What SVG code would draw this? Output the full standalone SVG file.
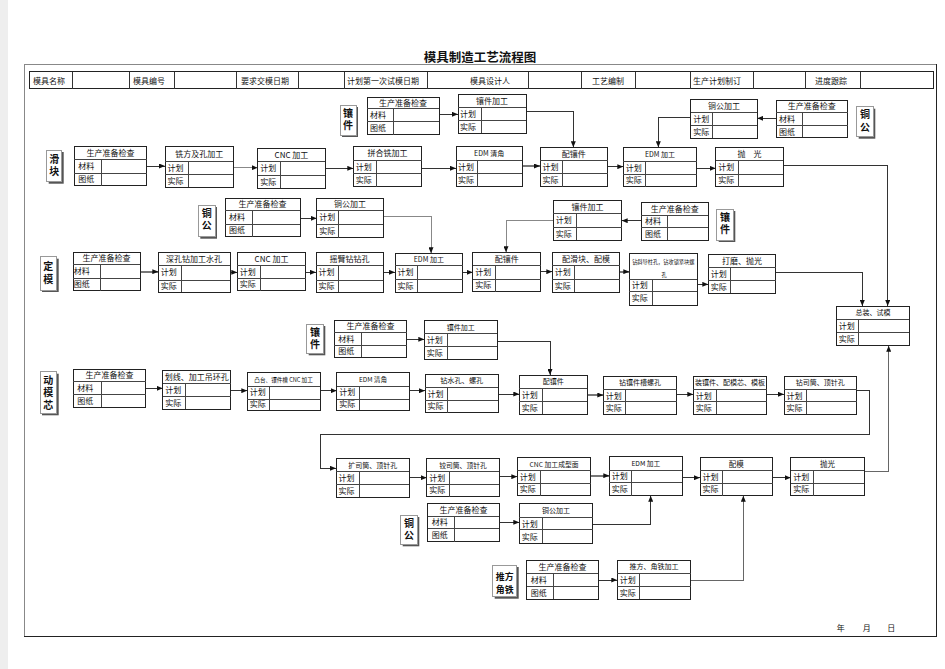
<svg xmlns="http://www.w3.org/2000/svg" width="945" height="669" viewBox="0 0 945 669">
<style>
text{font-family:"Noto Sans CJK SC","Noto Sans",sans-serif;fill:#111}
.box rect{fill:#fff;stroke:#222;stroke-width:1;shape-rendering:crispEdges}
.box line{stroke:#444;stroke-width:1;shape-rendering:crispEdges}
.t{font-size:8px;text-anchor:middle}
.r{font-size:8px}
.lab .sh{fill:#555;stroke:none}
.lab .fr{fill:#fff;stroke:#999;stroke-width:1;shape-rendering:crispEdges}
.lab text{font-size:10px;font-weight:bold}
.lab .v{writing-mode:vertical-rl;letter-spacing:2.6px}
.hd{font-size:8px}
#connectors path{fill:none;stroke:#333;stroke-width:1;shape-rendering:crispEdges}
</style>
<defs>
<marker id="ah" markerUnits="userSpaceOnUse" markerWidth="6" markerHeight="5" refX="6" refY="2.5" orient="auto">
<path d="M0,0 L6,2.5 L0,5 z" fill="#111"/>
</marker>
</defs>
<rect x="0" y="0" width="945" height="669" fill="#fff"/>
<rect x="0" y="0" width="8" height="669" fill="#eeeeee"/>
<g id="page">
<path d="M24,636 V64 H936" fill="none" stroke="#888" stroke-width="1" shape-rendering="crispEdges"/>
<path d="M936,64 V636 H24" fill="none" stroke="#222" stroke-width="1" shape-rendering="crispEdges"/>
<text x="480" y="62" style="font-size:12.5px;font-weight:bold" text-anchor="middle">模具制造工艺流程图</text>
</g>
<g id="header">
<rect x="29.5" y="71.5" width="904" height="17" fill="none" stroke="#222" stroke-width="1" shape-rendering="crispEdges"/>
<g stroke="#333" stroke-width="1" shape-rendering="crispEdges">
<line x1="72.5" y1="71.5" x2="72.5" y2="88.5"/><line x1="129.5" y1="71.5" x2="129.5" y2="88.5"/>
<line x1="174.5" y1="71.5" x2="174.5" y2="88.5"/><line x1="236.5" y1="71.5" x2="236.5" y2="88.5"/>
<line x1="298.5" y1="71.5" x2="298.5" y2="88.5"/><line x1="344.5" y1="71.5" x2="344.5" y2="88.5"/>
<line x1="427.5" y1="71.5" x2="427.5" y2="88.5"/><line x1="528.5" y1="71.5" x2="528.5" y2="88.5"/>
<line x1="581.5" y1="71.5" x2="581.5" y2="88.5"/><line x1="635.5" y1="71.5" x2="635.5" y2="88.5"/>
<line x1="690.5" y1="71.5" x2="690.5" y2="88.5"/><line x1="753.5" y1="71.5" x2="753.5" y2="88.5"/>
<line x1="805.5" y1="71.5" x2="805.5" y2="88.5"/><line x1="860.5" y1="71.5" x2="860.5" y2="88.5"/>
</g>
<text class="hd" x="33" y="83.5">模具名称</text>
<text class="hd" x="133" y="83.5">模具编号</text>
<text class="hd" x="241" y="83.5">要求交模日期</text>
<text class="hd" x="347" y="83.5">计划第一次试模日期</text>
<text class="hd" x="470" y="83.5">模具设计人</text>
<text class="hd" x="592" y="83.5">工艺编制</text>
<text class="hd" x="693" y="83.5">生产计划制订</text>
<text class="hd" x="815" y="83.5">进度跟踪</text>
</g>

<g id="labels">
<g id="L1" class="lab"><rect class="sh" x="342" y="107" width="16" height="30"/><rect class="fr" x="340" y="105" width="16" height="30"/><text class="v" x="348" y="108">镶件</text></g>
<g id="L2" class="lab"><rect class="sh" x="48.7" y="152" width="15" height="31.7"/><rect class="fr" x="46.7" y="150" width="15" height="31.7"/><text class="v" x="54.2" y="154">滑块</text></g>
<g id="L3" class="lab"><rect class="sh" x="858.7" y="108.7" width="16.6" height="30"/><rect class="fr" x="856.7" y="106.7" width="16.6" height="30"/><text class="v" x="865" y="109.5">铜公</text></g>
<g id="L4" class="lab"><rect class="sh" x="200.3" y="207" width="16.7" height="31.7"/><rect class="fr" x="198.3" y="205" width="16.7" height="31.7"/><text class="v" x="206.7" y="208">铜公</text></g>
<g id="L5" class="lab"><rect class="sh" x="718.7" y="211" width="16.6" height="31"/><rect class="fr" x="716.7" y="209" width="16.6" height="31"/><text class="v" x="725" y="212">镶件</text></g>
<g id="L6" class="lab"><rect class="sh" x="42" y="258.7" width="16.7" height="33.3"/><rect class="fr" x="40" y="256.7" width="16.7" height="33.3"/><text class="v" x="48.3" y="261" style="letter-spacing:3.5px">定模</text></g>
<g id="L7" class="lab"><rect class="sh" x="308.7" y="326" width="16.6" height="29.3"/><rect class="fr" x="306.7" y="324" width="16.6" height="29.3"/><text class="v" x="315" y="327">镶件</text></g>
<g id="L8" class="lab"><rect class="sh" x="42" y="373.7" width="16.7" height="41.6"/><rect class="fr" x="40" y="371.7" width="16.7" height="41.6"/><text class="v" x="48.3" y="375">动模芯</text></g>
<g id="L9" class="lab"><rect class="sh" x="402.7" y="517" width="16.6" height="29.3"/><rect class="fr" x="400.7" y="515" width="16.6" height="29.3"/><text class="v" x="409" y="518">铜公</text></g>
<g id="L10" class="lab"><rect class="sh" x="494.7" y="567" width="24" height="31.7"/><rect class="fr" x="492.7" y="565" width="24" height="31.7"/><text x="504.7" y="579.5" text-anchor="middle" style="font-size:8.9px">推方</text><text x="504.7" y="592.6" text-anchor="middle" style="font-size:8.9px">角铁</text></g>
</g>

<g id="connectors">
<path marker-end="url(#ah)" d="M439,114.3 H458"/>
<path marker-end="url(#ah)" d="M525.7,111 H573.3 V147.3"/>
<path marker-end="url(#ah)" d="M146.7,166 H165"/>
<path marker-end="url(#ah)" d="M233.3,167.7 H257.7" style="stroke:#888"/>
<path marker-end="url(#ah)" d="M325.3,168.3 H353.3"/>
<path marker-end="url(#ah)" d="M421.7,168.3 H456"/>
<path marker-end="url(#ah)" d="M522.3,166 H540" style="stroke:#777;stroke-width:2"/>
<path marker-end="url(#ah)" d="M607.7,166.7 H623.3"/>
<path marker-end="url(#ah)" d="M690.7,117.3 H658.3 V147.3"/>
<path marker-end="url(#ah)" d="M776,118.3 H757.3"/>
<path marker-end="url(#ah)" d="M696.7,168.3 H715.7"/>
<path marker-end="url(#ah)" d="M783.3,165 H887.7 V306"/>
<path marker-end="url(#ah)" d="M300,218.3 H316.7"/>
<path marker-end="url(#ah)" d="M383.3,216.7 H431 V253.3" style="stroke:#888"/>
<path marker-end="url(#ah)" d="M140,271.7 H158.3" style="stroke:#777;stroke-width:2"/>
<path marker-end="url(#ah)" d="M230,272.3 H237.3"/>
<path marker-end="url(#ah)" d="M305.7,272.3 H316"/>
<path marker-end="url(#ah)" d="M383.3,272.3 H395"/>
<path marker-end="url(#ah)" d="M462.7,272.3 H472.7"/>
<path marker-end="url(#ah)" d="M641,220.7 H621.7"/>
<path marker-end="url(#ah)" d="M553.3,220 H506 V252.3" style="stroke:#888"/>
<path marker-end="url(#ah)" d="M540.7,271.7 H552.3"/>
<path marker-end="url(#ah)" d="M620,271.7 H629.3" style="stroke:#777;stroke-width:2"/>
<path marker-end="url(#ah)" d="M697.3,284.3 H708.3"/>
<path marker-end="url(#ah)" d="M775.7,272.3 H862.3 V306"/>
<path marker-end="url(#ah)" d="M406.7,339.3 H424.3"/>
<path marker-end="url(#ah)" d="M497.3,341 H550 V375"/>
<path marker-end="url(#ah)" d="M145.7,388.3 H162.7"/>
<path marker-end="url(#ah)" d="M230.7,390.7 H247.3"/>
<path marker-end="url(#ah)" d="M320,390.7 H336.7"/>
<path marker-end="url(#ah)" d="M409.3,390.7 H425"/>
<path marker-end="url(#ah)" d="M498.3,394 H519.3"/>
<path marker-end="url(#ah)" d="M587.3,395 H603.3" style="stroke:#777;stroke-width:2"/>
<path marker-end="url(#ah)" d="M676.7,394.3 H693.3"/>
<path marker-end="url(#ah)" d="M766.7,394.3 H784"/>
<path marker-end="url(#ah)" d="M856.7,390 H869 V434.3 H320.7 V468.3 H336"/>
<path marker-end="url(#ah)" d="M409.3,477.7 H426.7"/>
<path marker-end="url(#ah)" d="M499.3,476.7 H517.3"/>
<path marker-end="url(#ah)" d="M590.7,475.7 H609.3" style="stroke:#777;stroke-width:2"/>
<path marker-end="url(#ah)" d="M682.3,477.7 H700"/>
<path marker-end="url(#ah)" d="M772.7,477.7 H790.7"/>
<path marker-end="url(#ah)" d="M864,471.7 H888.7 V345.7" style="stroke:#666"/>
<path marker-end="url(#ah)" d="M499.3,522.3 H519.3"/>
<path marker-end="url(#ah)" d="M592.7,524.3 H650.7 V495.7"/>
<path marker-end="url(#ah)" d="M598.3,580 H617.3"/>
<path marker-end="url(#ah)" d="M690.7,580 H743.3 V495.7" style="stroke:#666"/>
</g>

<g id="nodes">
<g id="n1" class="box" transform="translate(367,97)"><rect width="72" height="37.5"/><line x1="0" y1="11.5" x2="72" y2="11.5"/><line x1="0" y1="24.8" x2="72" y2="24.8"/><line x1="26.5" y1="11.5" x2="26.5" y2="37.5"/><text class="t" x="36" y="8.8">生产准备检查</text><text class="r" x="3" y="21.1">材料</text><text class="r" x="3" y="34.1">图纸</text></g>
<g id="n2" class="box" transform="translate(458,94.3)"><rect width="68" height="39"/><line x1="0" y1="13" x2="68" y2="13"/><line x1="0" y1="26.4" x2="68" y2="26.4"/><line x1="23" y1="13" x2="23" y2="39"/><text class="t" x="34" y="9.5">镶件加工</text><text class="r" x="2" y="22.7">计划</text><text class="r" x="2" y="35.7">实际</text></g>
<g id="n3" class="box" transform="translate(74.3,146.7)"><rect width="72.4" height="39"/><line x1="0" y1="12.6" x2="72.4" y2="12.6"/><line x1="0" y1="26.6" x2="72.4" y2="26.6"/><line x1="26.7" y1="12.6" x2="26.7" y2="39"/><text class="t" x="36.2" y="9.3">生产准备检查</text><text class="r" x="4" y="22.6">材料</text><text class="r" x="4" y="35.8">图纸</text></g>
<g id="n4" class="box" transform="translate(165,146.7)"><rect width="68.3" height="40.6"/><line x1="0" y1="14.3" x2="68.3" y2="14.3"/><line x1="0" y1="27.6" x2="68.3" y2="27.6"/><line x1="23.3" y1="14.3" x2="23.3" y2="40.6"/><text class="t" x="34.2" y="10.2">铣方及孔加工</text><text class="r" x="2.5" y="24">计划</text><text class="r" x="2.5" y="37.1">实际</text></g>
<g id="n5" class="box" transform="translate(257.7,148.3)"><rect width="67.6" height="40"/><line x1="0" y1="12.7" x2="67.6" y2="12.7"/><line x1="0" y1="26.7" x2="67.6" y2="26.7"/><line x1="23" y1="12.7" x2="23" y2="40"/><text class="t" x="33.8" y="9.4">CNC 加工</text><text class="r" x="2.5" y="22.7">计划</text><text class="r" x="2.5" y="36.4">实际</text></g>
<g id="n6" class="box" transform="translate(353.3,146.7)"><rect width="68.4" height="40"/><line x1="0" y1="13.3" x2="68.4" y2="13.3"/><line x1="0" y1="26.6" x2="68.4" y2="26.6"/><line x1="23.4" y1="13.3" x2="23.4" y2="40"/><text class="t" x="34.2" y="9.7">拼合铣加工</text><text class="r" x="2.5" y="23">计划</text><text class="r" x="2.5" y="36.3">实际</text></g>
<g id="n7" class="box" transform="translate(456,146.7)"><rect width="66.3" height="40"/><line x1="0" y1="13.3" x2="66.3" y2="13.3"/><line x1="0" y1="26.6" x2="66.3" y2="26.6"/><line x1="21.3" y1="13.3" x2="21.3" y2="40"/><text class="t" x="33.2" y="9.3" style="font-size:7px">EDM 清角</text><text class="r" x="2" y="23">计划</text><text class="r" x="2" y="36.3">实际</text></g>
<g id="n8" class="box" transform="translate(540,147.3)"><rect width="67.7" height="39.4"/><line x1="0" y1="13.4" x2="67.7" y2="13.4"/><line x1="0" y1="26" x2="67.7" y2="26"/><line x1="22.3" y1="13.4" x2="22.3" y2="39.4"/><text class="t" x="33.8" y="9.7">配镶件</text><text class="r" x="2.5" y="22.7">计划</text><text class="r" x="2.5" y="35.7">实际</text></g>
<g id="n9" class="box" transform="translate(623.3,147.3)"><rect width="73.4" height="39.4"/><line x1="0" y1="13.7" x2="73.4" y2="13.7"/><line x1="0" y1="27" x2="73.4" y2="27"/><line x1="22.4" y1="13.7" x2="22.4" y2="39.4"/><text class="t" x="36.7" y="9.5" style="font-size:7px">EDM 加工</text><text class="r" x="2.5" y="23.4">计划</text><text class="r" x="2.5" y="36.2">实际</text></g>
<g id="n10" class="box" transform="translate(715.7,147.3)"><rect width="67.6" height="39.4"/><line x1="0" y1="12.7" x2="67.6" y2="12.7"/><line x1="0" y1="26.7" x2="67.6" y2="26.7"/><line x1="22.6" y1="12.7" x2="22.6" y2="39.4"/><text class="t" x="33.8" y="9.4">抛　光</text><text class="r" x="2.5" y="22.7">计划</text><text class="r" x="2.5" y="36">实际</text></g>
<g id="n11" class="box" transform="translate(690.7,99.3)"><rect width="66.6" height="39"/><line x1="0" y1="13" x2="66.6" y2="13"/><line x1="0" y1="25.7" x2="66.6" y2="25.7"/><line x1="22" y1="13" x2="22" y2="39"/><text class="t" x="33.3" y="9.5">铜公加工</text><text class="r" x="2.5" y="22.4">计划</text><text class="r" x="2.5" y="35.4">实际</text></g>
<g id="n12" class="box" transform="translate(776,100)"><rect width="71.7" height="37.3"/><line x1="0" y1="12.7" x2="71.7" y2="12.7"/><line x1="0" y1="25.7" x2="71.7" y2="25.7"/><line x1="26.3" y1="12.7" x2="26.3" y2="37.3"/><text class="t" x="35.8" y="9.4">生产准备检查</text><text class="r" x="3" y="22.2">材料</text><text class="r" x="3" y="34.5">图纸</text></g>
<g id="n13" class="box" transform="translate(225,198.3)"><rect width="75" height="38.4"/><line x1="0" y1="11.7" x2="75" y2="11.7"/><line x1="0" y1="26" x2="75" y2="26"/><line x1="27.3" y1="11.7" x2="27.3" y2="38.4"/><text class="t" x="37.5" y="8.9">生产准备检查</text><text class="r" x="4" y="21.9">材料</text><text class="r" x="4" y="35.2">图纸</text></g>
<g id="n14" class="box" transform="translate(316.7,198.3)"><rect width="66.6" height="39.4"/><line x1="0" y1="12.4" x2="66.6" y2="12.4"/><line x1="0" y1="26" x2="66.6" y2="26"/><line x1="21.6" y1="12.4" x2="21.6" y2="39.4"/><text class="t" x="33.3" y="9.2">铜公加工</text><text class="r" x="2.5" y="22.2">计划</text><text class="r" x="2.5" y="35.7">实际</text></g>
<g id="n15" class="box" transform="translate(73.3,252.3)"><rect width="66.7" height="38.4"/><line x1="0" y1="11.7" x2="66.7" y2="11.7"/><line x1="0" y1="26" x2="66.7" y2="26"/><line x1="27.4" y1="11.7" x2="27.4" y2="38.4"/><text class="t" x="33.3" y="8.9">生产准备检查</text><text class="r" x="0.5" y="21.9">材料</text><text class="r" x="0.5" y="35.2">图纸</text></g>
<g id="n16" class="box" transform="translate(158.3,252.3)"><rect width="71.7" height="40"/><line x1="0" y1="12.7" x2="71.7" y2="12.7"/><line x1="0" y1="27.7" x2="71.7" y2="27.7"/><line x1="23.4" y1="12.7" x2="23.4" y2="40"/><text class="t" x="35.8" y="9.4">深孔钻加工水孔</text><text class="r" x="2.5" y="23.2">计划</text><text class="r" x="2.5" y="36.9">实际</text></g>
<g id="n17" class="box" transform="translate(237.3,252.3)"><rect width="68.4" height="38.4"/><line x1="0" y1="12.7" x2="68.4" y2="12.7"/><line x1="0" y1="26" x2="68.4" y2="26"/><line x1="23.4" y1="12.7" x2="23.4" y2="38.4"/><text class="t" x="34.2" y="9.4">CNC 加工</text><text class="r" x="2.5" y="22.4">计划</text><text class="r" x="2.5" y="35.2">实际</text></g>
<g id="n18" class="box" transform="translate(316,252.3)"><rect width="67.3" height="40"/><line x1="0" y1="12.7" x2="67.3" y2="12.7"/><line x1="0" y1="27.7" x2="67.3" y2="27.7"/><line x1="22.3" y1="12.7" x2="22.3" y2="40"/><text class="t" x="33.6" y="9.4">摇臂钻钻孔</text><text class="r" x="2.5" y="23.2">计划</text><text class="r" x="2.5" y="36.9">实际</text></g>
<g id="n19" class="box" transform="translate(395,253.3)"><rect width="67.7" height="39"/><line x1="0" y1="11.7" x2="67.7" y2="11.7"/><line x1="0" y1="25.7" x2="67.7" y2="25.7"/><line x1="22.7" y1="11.7" x2="22.7" y2="39"/><text class="t" x="33.8" y="8.6" style="font-size:7px">EDM 加工</text><text class="r" x="2.5" y="21.7">计划</text><text class="r" x="2.5" y="35.4">实际</text></g>
<g id="n20" class="box" transform="translate(472.7,252.3)"><rect width="68" height="39.4"/><line x1="0" y1="13.4" x2="68" y2="13.4"/><line x1="0" y1="26.7" x2="68" y2="26.7"/><line x1="23" y1="13.4" x2="23" y2="39.4"/><text class="t" x="34" y="9.7">配镶件</text><text class="r" x="2.5" y="23">计划</text><text class="r" x="2.5" y="36">实际</text></g>
<g id="n21" class="box" transform="translate(552.3,252.3)"><rect width="67.7" height="40"/><line x1="0" y1="12.7" x2="67.7" y2="12.7"/><line x1="0" y1="26.7" x2="67.7" y2="26.7"/><line x1="22" y1="12.7" x2="22" y2="40"/><text class="t" x="33.8" y="9.4">配滑块、配模</text><text class="r" x="2.5" y="22.7">计划</text><text class="r" x="2.5" y="36.4">实际</text></g>
<g id="n22" class="box" transform="translate(629.3,253.3)"><rect width="68" height="52"/><line x1="0" y1="25.7" x2="68" y2="25.7"/><line x1="0" y1="38.4" x2="68" y2="38.4"/><line x1="23.4" y1="25.7" x2="23.4" y2="52"/><text class="t" x="34" y="10.4" style="font-size:5.2px">钻斜导柱孔，钻攻锁紧块螺</text><text class="t" x="34.7" y="23.7" style="font-size:5.2px">孔</text><text class="r" x="2.5" y="35">计划</text><text class="r" x="2.5" y="48.2">实际</text></g>
<g id="n23" class="box" transform="translate(708.3,254.3)"><rect width="67.4" height="39"/><line x1="0" y1="13" x2="67.4" y2="13"/><line x1="0" y1="25.7" x2="67.4" y2="25.7"/><line x1="22.4" y1="13" x2="22.4" y2="39"/><text class="t" x="33.7" y="9.5">打磨、抛光</text><text class="r" x="2.5" y="22.4">计划</text><text class="r" x="2.5" y="35.4">实际</text></g>
<g id="n24" class="box" transform="translate(553.3,200.7)"><rect width="68.4" height="39.3"/><line x1="0" y1="12.6" x2="68.4" y2="12.6"/><line x1="0" y1="26.6" x2="68.4" y2="26.6"/><line x1="23.4" y1="12.6" x2="23.4" y2="39.3"/><text class="t" x="34.2" y="9.3">镶件加工</text><text class="r" x="2.5" y="22.6">计划</text><text class="r" x="2.5" y="36">实际</text></g>
<g id="n25" class="box" transform="translate(641,202.3)"><rect width="67.3" height="37.7"/><line x1="0" y1="12.7" x2="67.3" y2="12.7"/><line x1="0" y1="25" x2="67.3" y2="25"/><line x1="26.3" y1="12.7" x2="26.3" y2="37.7"/><text class="t" x="33.7" y="9.4">生产准备检查</text><text class="r" x="4" y="21.9">材料</text><text class="r" x="4" y="34.4">图纸</text></g>
<g id="n26" class="box" transform="translate(836.7,306)"><rect width="72.6" height="39.7"/><line x1="0" y1="13.3" x2="72.6" y2="13.3"/><line x1="0" y1="26.3" x2="72.6" y2="26.3"/><line x1="21.6" y1="13.3" x2="21.6" y2="39.7"/><text class="t" x="36.3" y="9.3" style="font-size:7px">总装、试模</text><text class="r" x="2" y="22.8">计划</text><text class="r" x="2" y="36">实际</text></g>
<g id="n27" class="box" transform="translate(334.3,320)"><rect width="72.4" height="37.3"/><line x1="0" y1="12.3" x2="72.4" y2="12.3"/><line x1="0" y1="25" x2="72.4" y2="25"/><line x1="27.4" y1="12.3" x2="27.4" y2="37.3"/><text class="t" x="36.2" y="9.2">生产准备检查</text><text class="r" x="4" y="21.7">材料</text><text class="r" x="4" y="34.2">图纸</text></g>
<g id="n28" class="box" transform="translate(424.3,320.7)"><rect width="73" height="38.6"/><line x1="0" y1="12.6" x2="73" y2="12.6"/><line x1="0" y1="26" x2="73" y2="26"/><line x1="23.4" y1="12.6" x2="23.4" y2="38.6"/><text class="t" x="36.5" y="9" style="font-size:7px">镶件加工</text><text class="r" x="2.5" y="22.3">计划</text><text class="r" x="2.5" y="35.3">实际</text></g>
<g id="n29" class="box" transform="translate(73.3,369.3)"><rect width="72.4" height="38"/><line x1="0" y1="12.4" x2="72.4" y2="12.4"/><line x1="0" y1="25.7" x2="72.4" y2="25.7"/><line x1="27.7" y1="12.4" x2="27.7" y2="38"/><text class="t" x="36.2" y="9.2">生产准备检查</text><text class="r" x="4" y="22.1">材料</text><text class="r" x="4" y="34.9">图纸</text></g>
<g id="n30" class="box" transform="translate(162.7,370.7)"><rect width="68" height="38.3"/><line x1="0" y1="12.6" x2="68" y2="12.6"/><line x1="0" y1="26" x2="68" y2="26"/><line x1="23" y1="12.6" x2="23" y2="38.3"/><text class="t" x="34" y="9.3">划线、加工吊环孔</text><text class="r" x="2.5" y="22.3">计划</text><text class="r" x="2.5" y="35.2">实际</text></g>
<g id="n31" class="box" transform="translate(247.3,372.7)"><rect width="72.7" height="37.3"/><line x1="0" y1="13.3" x2="72.7" y2="13.3"/><line x1="0" y1="26.3" x2="72.7" y2="26.3"/><line x1="22" y1="13.3" x2="22" y2="37.3"/><text class="t" x="36.3" y="8.9" style="font-size:5.6px">凸台、镶件槽 CNC 加工</text><text class="r" x="2.5" y="22.8">计划</text><text class="r" x="2.5" y="34.8">实际</text></g>
<g id="n32" class="box" transform="translate(336.7,372.7)"><rect width="72.6" height="37.3"/><line x1="0" y1="13.3" x2="72.6" y2="13.3"/><line x1="0" y1="26.3" x2="72.6" y2="26.3"/><line x1="22.3" y1="13.3" x2="22.3" y2="37.3"/><text class="t" x="36.3" y="9.2" style="font-size:6.5px">EDM 清角</text><text class="r" x="2.5" y="22.8">计划</text><text class="r" x="2.5" y="34.8">实际</text></g>
<g id="n33" class="box" transform="translate(425,374)"><rect width="73.3" height="38.7"/><line x1="0" y1="13.3" x2="73.3" y2="13.3"/><line x1="0" y1="26" x2="73.3" y2="26"/><line x1="22.7" y1="13.3" x2="22.7" y2="38.7"/><text class="t" x="36.7" y="9.3" style="font-size:7.2px">钻水孔、螺孔</text><text class="r" x="2.5" y="22.7">计划</text><text class="r" x="2.5" y="35.4">实际</text></g>
<g id="n34" class="box" transform="translate(519.3,375)"><rect width="68" height="39"/><line x1="0" y1="13.3" x2="68" y2="13.3"/><line x1="0" y1="26" x2="68" y2="26"/><line x1="23" y1="13.3" x2="23" y2="39"/><text class="t" x="34" y="9.3" style="font-size:7px">配镶件</text><text class="r" x="2.5" y="22.7">计划</text><text class="r" x="2.5" y="35.5">实际</text></g>
<g id="n35" class="box" transform="translate(603.3,376)"><rect width="73.4" height="38"/><line x1="0" y1="13.3" x2="73.4" y2="13.3"/><line x1="0" y1="25.7" x2="73.4" y2="25.7"/><line x1="22.4" y1="13.3" x2="22.4" y2="38"/><text class="t" x="36.7" y="9.3" style="font-size:7px">钻镶件槽螺孔</text><text class="r" x="2.5" y="22.5">计划</text><text class="r" x="2.5" y="34.9">实际</text></g>
<g id="n36" class="box" transform="translate(693.3,376)"><rect width="73.4" height="38"/><line x1="0" y1="13.3" x2="73.4" y2="13.3"/><line x1="0" y1="25.7" x2="73.4" y2="25.7"/><line x1="23.4" y1="13.3" x2="23.4" y2="38"/><text class="t" x="36.7" y="9.3" style="font-size:7px">装镶件、配模芯、模板</text><text class="r" x="2.5" y="22.5">计划</text><text class="r" x="2.5" y="34.9">实际</text></g>
<g id="n37" class="box" transform="translate(784,376)"><rect width="72.7" height="38"/><line x1="0" y1="13.3" x2="72.7" y2="13.3"/><line x1="0" y1="25.7" x2="72.7" y2="25.7"/><line x1="22.7" y1="13.3" x2="22.7" y2="38"/><text class="t" x="36.3" y="9.3" style="font-size:7px">钻司筒、顶针孔</text><text class="r" x="2.5" y="22.5">计划</text><text class="r" x="2.5" y="34.9">实际</text></g>
<g id="n38" class="box" transform="translate(336,458.3)"><rect width="73.3" height="39"/><line x1="0" y1="13.4" x2="73.3" y2="13.4"/><line x1="0" y1="26" x2="73.3" y2="26"/><line x1="23.3" y1="13.4" x2="23.3" y2="39"/><text class="t" x="36.7" y="9.4" style="font-size:7px">扩司筒、顶针孔</text><text class="r" x="2.5" y="22.7">计划</text><text class="r" x="2.5" y="35.5">实际</text></g>
<g id="n39" class="box" transform="translate(426.7,458.3)"><rect width="72.6" height="38.4"/><line x1="0" y1="13.4" x2="72.6" y2="13.4"/><line x1="0" y1="26" x2="72.6" y2="26"/><line x1="22.6" y1="13.4" x2="22.6" y2="38.4"/><text class="t" x="36.3" y="9.4" style="font-size:6.8px">铰司筒、顶针孔</text><text class="r" x="2.5" y="22.7">计划</text><text class="r" x="2.5" y="35.2">实际</text></g>
<g id="n40" class="box" transform="translate(517.3,457.3)"><rect width="73.4" height="38.4"/><line x1="0" y1="13.4" x2="73.4" y2="13.4"/><line x1="0" y1="26" x2="73.4" y2="26"/><line x1="23.4" y1="13.4" x2="23.4" y2="38.4"/><text class="t" x="36.7" y="9.4" style="font-size:6.8px">CNC 加工成型面</text><text class="r" x="2.5" y="22.7">计划</text><text class="r" x="2.5" y="35.2">实际</text></g>
<g id="n41" class="box" transform="translate(609.3,456.7)"><rect width="73" height="39"/><line x1="0" y1="13.3" x2="73" y2="13.3"/><line x1="0" y1="26" x2="73" y2="26"/><line x1="22.4" y1="13.3" x2="22.4" y2="39"/><text class="t" x="36.5" y="9.3" style="font-size:6.7px">EDM 加工</text><text class="r" x="2.5" y="22.7">计划</text><text class="r" x="2.5" y="35.5">实际</text></g>
<g id="n42" class="box" transform="translate(700,457.3)"><rect width="72.7" height="38.4"/><line x1="0" y1="13.4" x2="72.7" y2="13.4"/><line x1="0" y1="26" x2="72.7" y2="26"/><line x1="22.7" y1="13.4" x2="22.7" y2="38.4"/><text class="t" x="36.3" y="9.4" style="font-size:7.5px">配模</text><text class="r" x="2.5" y="22.7">计划</text><text class="r" x="2.5" y="35.2">实际</text></g>
<g id="n43" class="box" transform="translate(790.7,457.3)"><rect width="73.3" height="38.4"/><line x1="0" y1="13.4" x2="73.3" y2="13.4"/><line x1="0" y1="26" x2="73.3" y2="26"/><line x1="22.6" y1="13.4" x2="22.6" y2="38.4"/><text class="t" x="36.7" y="9.4" style="font-size:7.5px">抛光</text><text class="r" x="2.5" y="22.7">计划</text><text class="r" x="2.5" y="35.2">实际</text></g>
<g id="n44" class="box" transform="translate(427.7,503.3)"><rect width="71.6" height="38.4"/><line x1="0" y1="13.4" x2="71.6" y2="13.4"/><line x1="0" y1="25" x2="71.6" y2="25"/><line x1="26.6" y1="13.4" x2="26.6" y2="38.4"/><text class="t" x="35.8" y="9.7">生产准备检查</text><text class="r" x="4" y="22.2">材料</text><text class="r" x="4" y="34.7">图纸</text></g>
<g id="n45" class="box" transform="translate(519.3,503.3)"><rect width="73.4" height="40"/><line x1="0" y1="14" x2="73.4" y2="14"/><line x1="0" y1="26.7" x2="73.4" y2="26.7"/><line x1="23.4" y1="14" x2="23.4" y2="40"/><text class="t" x="36.7" y="9.7" style="font-size:7px">铜公加工</text><text class="r" x="2.5" y="23.4">计划</text><text class="r" x="2.5" y="36.4">实际</text></g>
<g id="n46" class="box" transform="translate(526.7,560)"><rect width="71.6" height="39"/><line x1="0" y1="13.3" x2="71.6" y2="13.3"/><line x1="0" y1="26" x2="71.6" y2="26"/><line x1="26.6" y1="13.3" x2="26.6" y2="39"/><text class="t" x="35.8" y="9.7">生产准备检查</text><text class="r" x="4" y="22.7">材料</text><text class="r" x="4" y="35.5">图纸</text></g>
<g id="n47" class="box" transform="translate(617.3,560)"><rect width="73.4" height="39"/><line x1="0" y1="13.3" x2="73.4" y2="13.3"/><line x1="0" y1="26" x2="73.4" y2="26"/><line x1="22" y1="13.3" x2="22" y2="39"/><text class="t" x="36.7" y="9.3" style="font-size:7px">推方、角铁加工</text><text class="r" x="2.5" y="22.7">计划</text><text class="r" x="2.5" y="35.5">实际</text></g>
</g>

<g id="footer">
<text x="836.7" y="631" class="hd">年</text>
<text x="862.7" y="631" class="hd">月</text>
<text x="887.3" y="631" class="hd">日</text>
</g>
</svg>
